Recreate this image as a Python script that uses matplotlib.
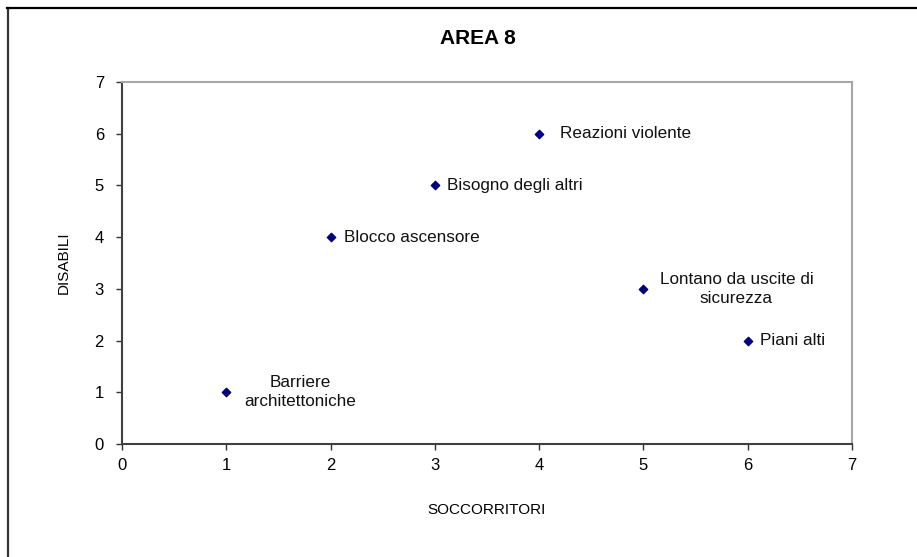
import matplotlib
matplotlib.use('Agg')
from matplotlib import pyplot as plt
from matplotlib.lines import Line2D

plt.rcParams['font.family'] = ['Liberation Sans', 'DejaVu Sans']

# dati
etichette = ['Barriere\narchitettoniche', 'Blocco ascensore', 'Bisogno degli altri',
             'Reazioni violente', 'Lontano da uscite di\nsicurezza', 'Piani alti']
soccorritori = [1, 2, 3, 4, 5, 6]
disabili = [1, 4, 5, 6, 3, 2]
tick_vals = [0, 1, 2, 3, 4, 5, 6, 7]

# spostamento delle etichette (pixel) e allineamento
offset = [(74, 0), (13, 0), (12, 0), (21, 0), (93, 0), (12, 0)]
allinea = ['center', 'left', 'left', 'left', 'center', 'left']

fig = plt.figure(figsize=(9.17, 5.57), dpi=100)
ax = fig.add_axes([122 / 917, 1 - 444 / 557, 730 / 917, 362 / 557])

ax.scatter(soccorritori, disabili, marker='D', s=18, color='#000080', zorder=3)
for i in range(len(etichette)):
    ax.annotate(etichette[i], (soccorritori[i], disabili[i]), xytext=offset[i],
                textcoords='offset pixels', ha=allinea[i], va='center',
                multialignment='center', linespacing=1.35, fontsize=12.3, color='#111111')

ax.set_xlim(0, 7)
ax.set_ylim(0, 7)
ax.set_xticks(tick_vals)
ax.set_yticks(tick_vals)
ax.tick_params(direction='out', length=4, width=1, labelsize=12, color='#333333')
ax.tick_params(axis='x', pad=6)
ax.tick_params(axis='y', pad=9)
ax.spines['left'].set_color('#404040')
ax.spines['bottom'].set_color('#404040')
ax.spines['top'].set_color('#a6a6a6')
ax.spines['right'].set_color('#a6a6a6')
for s in ax.spines.values():
    s.set_linewidth(1.5)

ax.set_xlabel('SOCCORRITORI', fontsize=11, labelpad=22)
ax.set_ylabel('DISABILI', fontsize=11, labelpad=17)
fig.text(478 / 917, 1 - 39 / 557, 'AREA 8', fontsize=15, fontweight='bold',
         ha='center', va='center')

# cornice esterna
fig.add_artist(Line2D([7.5 / 917, 7.5 / 917], [0, 1 - 7.5 / 557], color='#333333', lw=1.6))
fig.add_artist(Line2D([7 / 917, 1], [1 - 7.5 / 557, 1 - 7.5 / 557], color='black', lw=1.6))

plt.savefig('out.png', dpi=100)
